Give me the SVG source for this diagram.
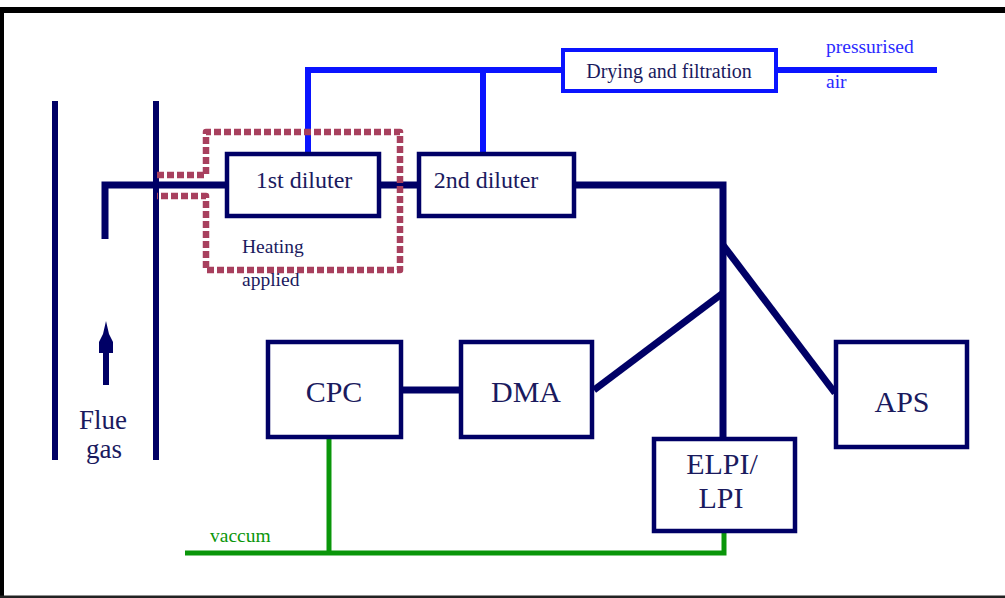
<svg xmlns="http://www.w3.org/2000/svg" width="1005" height="598" viewBox="0 0 1005 598">
<style>
.box{fill:#fff;stroke:#000066;stroke-width:4.5}
.navy{fill:none;stroke:#000066;stroke-width:7}
.blue{fill:none;stroke:#0a14ff;stroke-width:6}
.green{fill:none;stroke:#0a960a;stroke-width:5}
.t{font-family:"Liberation Serif","Times New Roman",serif;fill:#1a1a5e}
.big{font-size:30px}
.mid{font-size:24px}
.sm{font-size:19.5px}
</style>
<rect width="1005" height="598" fill="#fff"/>
<g id="frame">
<line x1="0" y1="10" x2="1005" y2="10" stroke="#000" stroke-width="6"/>
<line x1="2" y1="7" x2="2" y2="598" stroke="#000" stroke-width="4"/>
<line x1="0" y1="597" x2="1005" y2="597" stroke="#222" stroke-width="3"/>
</g>
<g id="flue-gas">
<line x1="55" y1="101" x2="55" y2="460" stroke="#000066" stroke-width="6"/>
<line x1="156" y1="101" x2="156" y2="460" stroke="#000066" stroke-width="6"/>
<line x1="106" y1="350" x2="106" y2="385" stroke="#000066" stroke-width="6"/>
<path d="M106,321 L109,334 L113,342 L113,353 L99,353 L99,342 L103,334 Z" fill="#000066"/>
<text class="t" x="103" y="429" font-size="27" text-anchor="middle">Flue</text>
<text class="t" x="104" y="458" font-size="27" text-anchor="middle">gas</text>
</g>
<g id="connectors">
<path class="navy" d="M105,239 V185 H227"/>
<path class="navy" d="M381,185 H419"/>
<path class="navy" d="M561,185 H723 V437"/>
<path class="navy" d="M723,245 L835,393"/>
<path class="navy" d="M723,293 L594,390"/>
<path class="navy" d="M403,390 H459"/>
<path class="blue" d="M308,154 V70 H562"/>
<path class="blue" d="M777,70 H937"/>
<path class="blue" stroke-width="3.5" d="M483,70 V154"/>
<path class="green" stroke-width="3.5" d="M329,439 V553"/>
<path class="green" stroke-width="5.5" d="M185,553 H724 V533"/>
</g>
<g id="heating">
<path d="M157,175 H206 V132 H400 V270 H206 V196 H157" fill="none" stroke="#a8405e" stroke-width="6.5" stroke-dasharray="7 3" stroke-linejoin="round"/>
<text class="t sm" x="242" y="253">Heating</text>
<text class="t sm" x="242" y="286">applied</text>
</g>
<g id="diluter1">
<rect class="box" x="227" y="154" width="152" height="62"/>
<text class="t mid" x="304" y="188" text-anchor="middle">1st diluter</text>
</g>
<g id="diluter2">
<rect class="box" x="419" y="154" width="155" height="62"/>
<text class="t mid" x="486" y="188" text-anchor="middle">2nd diluter</text>
</g>
<g id="drying">
<rect x="563" y="50" width="213" height="41" fill="#fff" stroke="#0a14ff" stroke-width="4"/>
<text class="t" x="669" y="78" font-size="20" text-anchor="middle">Drying and filtration</text>
</g>
<text x="826" y="53" font-family="Liberation Serif, serif" font-size="19.5" fill="#2a2aff">pressurised</text>
<text x="826" y="88" font-family="Liberation Serif, serif" font-size="19.5" fill="#2a2aff">air</text>
<g id="cpc">
<rect class="box" x="268" y="342" width="133" height="95" stroke-width="5"/>
<text class="t big" x="334" y="402" text-anchor="middle">CPC</text>
</g>
<g id="dma">
<rect class="box" x="461" y="342" width="131" height="95"/>
<text class="t big" x="526" y="402" text-anchor="middle">DMA</text>
</g>
<g id="aps">
<rect class="box" x="836" y="342" width="131" height="105"/>
<text class="t big" x="902" y="412" text-anchor="middle">APS</text>
</g>
<g id="elpi">
<rect class="box" x="654" y="439" width="141" height="92"/>
<text class="t big" x="722" y="474" text-anchor="middle">ELPI/</text>
<text class="t big" x="721" y="508" text-anchor="middle">LPI</text>
</g>
<text x="210" y="542" font-family="Liberation Serif, serif" font-size="19.5" fill="#0a960a">vaccum</text>
</svg>
